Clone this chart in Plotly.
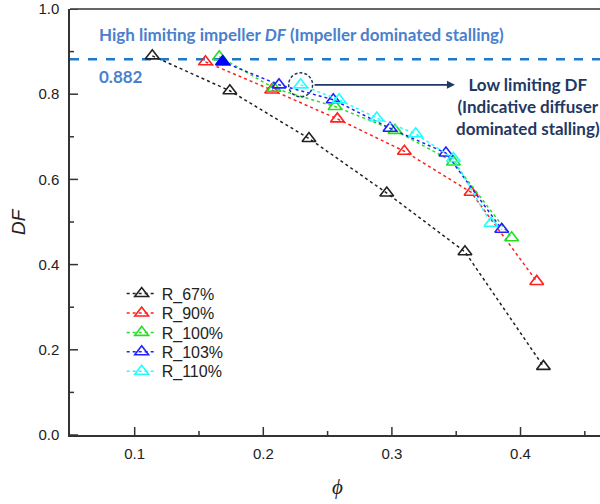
import plotly.graph_objects as go

# ---- data ----
series_names = ["R_67%", "R_90%", "R_100%", "R_103%", "R_110%"]
series_colors = ["#222222", "#ff2020", "#20e020", "#2020ff", "#20ffff"]
phi_67 = [0.1137, 0.174, 0.2355, 0.296, 0.3568, 0.4178]
df_67 = [0.890, 0.808, 0.696, 0.568, 0.430, 0.161]
phi_90 = [0.155, 0.2065, 0.2576, 0.3097, 0.3615, 0.4126]
df_90 = [0.876, 0.810, 0.742, 0.666, 0.570, 0.3605]
phi_100 = [0.1658, 0.2083, 0.2558, 0.3024, 0.3478, 0.3931]
df_100 = [0.888, 0.814, 0.771, 0.715, 0.641, 0.463]
phi_103 = [0.1684, 0.2122, 0.2544, 0.2985, 0.342, 0.3854]
df_103 = [0.876, 0.822, 0.787, 0.720, 0.662, 0.483]
phi_110 = [0.229, 0.2589, 0.2882, 0.3185, 0.3478, 0.377]
df_110 = [0.822, 0.787, 0.744, 0.707, 0.649, 0.497]
high_limit_df = 0.882
x_major = [0.1, 0.2, 0.3, 0.4]
x_minor = [0.15, 0.25, 0.35, 0.45]
y_major = [0.0, 0.2, 0.4, 0.6, 0.8, 1.0]
y_minor = [0.1, 0.3, 0.5, 0.7, 0.9]

xs = [phi_67, phi_90, phi_100, phi_103, phi_110]
ys = [df_67, df_90, df_100, df_103, df_110]

fig = go.Figure()
legend_ids = ["legend", "legend2", "legend3", "legend4", "legend5"]
for name, col, x, y, lg in zip(series_names, series_colors, xs, ys, legend_ids):
    fig.add_trace(go.Scatter(
        x=x, y=y, name=name, mode="lines+markers", legend=lg,
        line=dict(color=col, dash="dot", width=1.5),
        marker=dict(symbol="triangle-up-open", size=12, color=col, line=dict(width=1.6, color=col)),
    ))
fig.add_trace(go.Scatter(
    x=[phi_103[0]], y=[df_103[0]], mode="markers", showlegend=False,
    marker=dict(symbol="triangle-up", size=12, color="#0000ff", line=dict(width=1.6, color="#0000ff")),
))

xr = [0.0497, 0.4618]
axc = "#333333"
fig.add_shape(type="line", xref="paper", yref="y", x0=0, x1=1, y0=high_limit_df, y1=high_limit_df,
              line=dict(color="#1f7ac8", width=2.5, dash="dash"), layer="below")
fig.add_shape(type="line", xref="paper", yref="paper", x0=0, x1=1, y0=1, y1=1,
              line=dict(color=axc, width=1.5))
fig.add_shape(type="circle", xref="x", yref="y", xsizemode="pixel", ysizemode="pixel",
              xanchor=phi_110[0], yanchor=df_110[0], x0=-12, x1=12, y0=-12, y1=12,
              line=dict(color="#1f3864", width=1.5, dash="3px,2px"))
# inward tick marks
for vals, ln in [(x_major, 8), (x_minor, 4)]:
    for v in vals:
        fig.add_shape(type="line", xref="x", yref="paper", ysizemode="pixel", yanchor=0,
                      x0=v, x1=v, y0=0, y1=ln, line=dict(color=axc, width=1.5))
for vals, ln in [(y_major, 8), (y_minor, 4)]:
    for v in vals:
        fig.add_shape(type="line", xref="paper", yref="y", xsizemode="pixel", xanchor=0,
                      y0=v, y1=v, x0=0, x1=ln, line=dict(color=axc, width=1.5))

navy = "#1f3864"
lblue = "#4a80cc"
fig.add_annotation(x=0.349, y=df_110[0], ax=0.2387, ay=df_110[0], xref="x", yref="y", axref="x", ayref="y",
                   text="", showarrow=True, arrowhead=2, arrowsize=1, arrowwidth=1.6, arrowcolor=navy)
fig.add_annotation(x=0.406, y=0.771, xref="x", yref="y", showarrow=False, align="center",
                   text="Low limiting DF<br>(Indicative diffuser<br>dominated stalling)",
                   font=dict(family="Lato", size=17, color=navy, weight="bold"))
fig.add_annotation(x=0.0707, y=0.939, xref="x", yref="y", showarrow=False, xanchor="left",
                   text="High limiting impeller <i>DF</i> (Impeller dominated stalling)",
                   font=dict(family="Lato", size=17, color=lblue, weight="bold"))
fig.add_annotation(x=0.0707, y=0.841, xref="x", yref="y", showarrow=False, xanchor="left",
                   text="0.882", font=dict(family="Lato", size=17, color=lblue, weight="bold"))
fig.add_annotation(x=-0.098, y=0.5, xref="paper", yref="paper", showarrow=False, textangle=-90,
                   xanchor="center", yanchor="middle",
                   text="<i>DF</i>", font=dict(family="Liberation Sans", size=19, color="#222222"))
fig.add_annotation(x=0.505, y=-0.1215, xref="paper", yref="paper", showarrow=False,
                   xanchor="center", yanchor="middle",
                   text="<i>ϕ</i>", font=dict(family="Liberation Serif", size=21, color="#222222"))

fig.update_layout(
    xaxis=dict(range=xr, tickmode="array", tickvals=x_major, ticktext=[f"{v:.1f}" for v in x_major],
               ticks="", ticklabelstandoff=4,
               showgrid=False, zeroline=False, showline=True, linecolor=axc, linewidth=1.5,
               ticklabeloverflow="allow", tickfont=dict(family="Liberation Sans", size=15, color="#222222")),
    yaxis=dict(range=[0, 1], tickmode="array", tickvals=y_major, ticktext=[f"{v:.1f}" for v in y_major],
               ticks="", ticklabelstandoff=6,
               showgrid=False, zeroline=False, showline=True, linecolor=axc, linewidth=1.5,
               ticklabeloverflow="allow", tickfont=dict(family="Liberation Sans", size=15, color="#222222")),
)

row_px = [293, 312.5, 332, 351.5, 371]
legend_layout = {}
for lg, rp in zip(legend_ids, row_px):
    legend_layout[lg] = dict(x=0.0975, y=(435 - rp) / 428, xanchor="left", yanchor="middle",
                             bgcolor="rgba(0,0,0,0)", itemwidth=30,
                             font=dict(family="Liberation Sans", size=16, color="#222222"))

fig.update_layout(
    width=600, height=504, margin=dict(l=70, r=0, t=7, b=69),
    paper_bgcolor="white", plot_bgcolor="white",
    showlegend=True,
    **legend_layout,
)
fig.write_html("out.html")
